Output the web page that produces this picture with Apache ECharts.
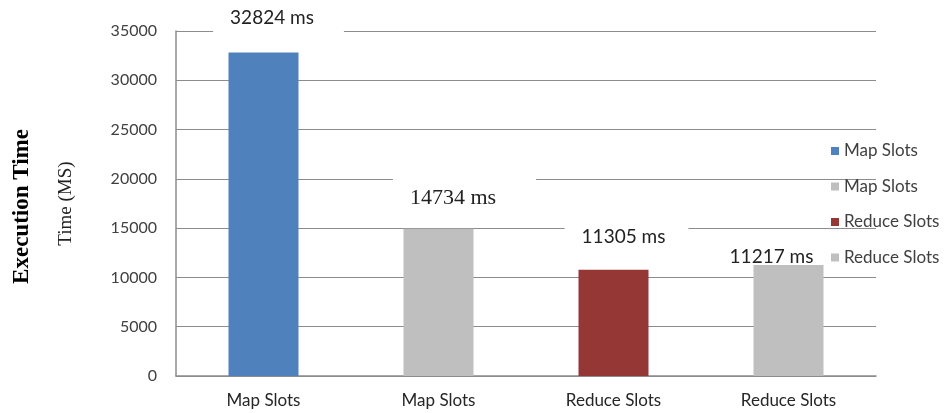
<!DOCTYPE html>
<html><head><meta charset="utf-8">
<script src="https://cdn.jsdelivr.net/npm/echarts@6/dist/echarts.min.js"></script>
<style>html,body{margin:0;padding:0;background:#fff}#c{width:951px;height:413px}</style>
</head><body><div id="c"></div>
<script>
const categories = ["Map Slots", "Map Slots", "Reduce Slots", "Reduce Slots"];
const legendNames = ["Map Slots", "Map Slots", "Reduce Slots", "Reduce Slots"];
const values = [32824, 14950, 10770, 11260];
const valueLabels = ["32824 ms", "14734 ms", "11305 ms", "11217 ms"];
const yMin = 0, yMax = 35000, yStep = 5000;

const colors = ["#4f81bd", "#bfbfbf", "#953735", "#bfbfbf"];
const labelStyles = [
  {font: "Lato", size: 19, pad: [8, 30, 8, 17], off: [15, -18], bg: "#fff"},
  {font: "Liberation Serif", size: 22, pad: [12, 40, 6, 17], off: [26, -15], bg: "#fff"},
  {font: "Lato", size: 19, pad: [10, 23, 6, 17], off: [13, -18], bg: "#fff"},
  {font: "Lato", size: 19, pad: 0, off: [-17, 1], bg: "transparent"}
];

const series = values.map((v, i) => {
  const ls = labelStyles[i];
  return {
    name: legendNames[i] + " ".repeat(i),
    type: "bar",
    stack: "all",
    barWidth: 70,
    itemStyle: {color: colors[i]},
    data: values.map((vv, j) => j === i ? vv : "-"),
    label: {
      show: true,
      position: "top",
      distance: 0,
      offset: ls.off,
      formatter: () => valueLabels[i],
      fontFamily: ls.font,
      fontSize: ls.size,
      lineHeight: 18,
      color: "#222",
      backgroundColor: ls.bg,
      padding: ls.pad
    }
  };
});

const chart = echarts.init(document.getElementById("c"), null, {renderer: "canvas"});
chart.setOption({
  animation: false,
  backgroundColor: "#fff",
  grid: {left: 176, right: 75, top: 31, bottom: 37, containLabel: false},
  legend: {
    orient: "vertical",
    left: 826,
    top: 136,
    itemWidth: 8,
    itemHeight: 8,
    itemGap: 15.5,
    icon: "rect",
    textStyle: {fontFamily: "Lato", fontSize: 17, color: "#404040", lineHeight: 20},
    data: series.map(s => s.name)
  },
  xAxis: {
    type: "category",
    data: categories,
    axisLine: {lineStyle: {color: "#8c8c8c", width: 1.5}},
    axisTick: {show: false},
    axisLabel: {fontFamily: "Lato", fontSize: 17, color: "#262626", margin: 16, interval: 0}
  },
  yAxis: {
    type: "value",
    min: yMin, max: yMax, interval: yStep,
    name: "Time (MS)",
    nameLocation: "middle",
    nameRotate: 90,
    nameGap: 100,
    nameTextStyle: {fontFamily: "Liberation Serif", fontSize: 19, color: "#222"},
    axisLine: {show: true, lineStyle: {color: "#8c8c8c", width: 1.5}},
    axisTick: {show: false},
    axisLabel: {fontFamily: "Lato", fontSize: 16, color: "#404040", margin: 19, formatter: v => String(v)},
    splitLine: {lineStyle: {color: "#8c8c8c", width: 1.2}}
  },
  graphic: [{
    type: "text",
    left: 11,
    top: "middle",
    rotation: Math.PI / 2,
    style: {text: "Execution Time", font: "bold 23px 'Liberation Serif'", fill: "#000"}
  }],
  series: series
});
</script></body></html>
